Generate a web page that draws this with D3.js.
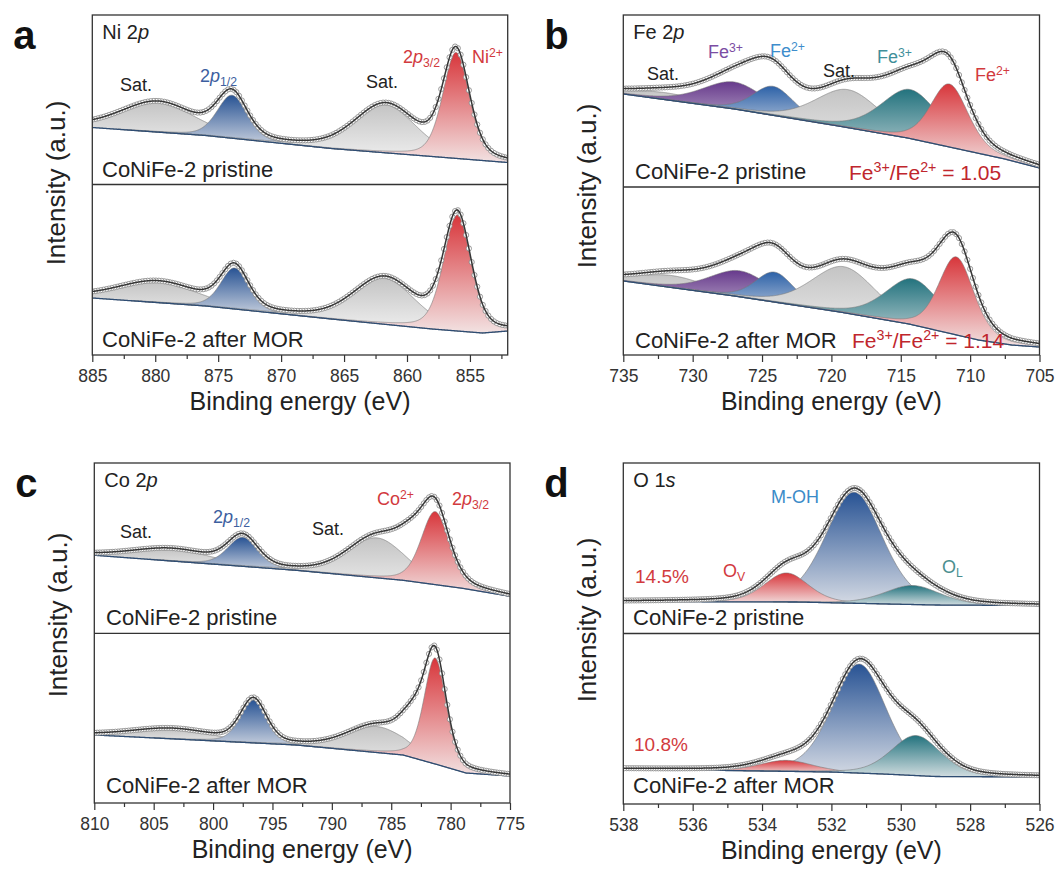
<!DOCTYPE html>
<html>
<head>
<meta charset="utf-8">
<script src="https://cdn.jsdelivr.net/npm/d3@7"></script>
<style>
  body { margin: 0; background: #fff; }
  text { font-family: "Liberation Sans", Arial, Helvetica, sans-serif; }
</style>
</head>
<body>
<svg id="fig" width="1057" height="879"></svg>
<script>
// ---------- values ----------
// background points: [binding energy (eV), intensity (a.u.)]
// peaks: [component, centre (eV), height above background, FWHM (eV), lorentz fraction]
// 'hidden' components are part of the fit envelope but have no filled area
const niTicks = [885, 880, 875, 870, 865, 860, 855];
const feTicks = [735, 730, 725, 720, 715, 710, 705];
const coTicks = [810, 805, 800, 795, 790, 785, 780, 775];
const oTicks  = [538, 536, 534, 532, 530, 528, 526];

const niPristineBg = [[885, 57], [876, 49], [866, 36], [858, 28], [852, 22]];
const niPristinePeaks = [
  ['sat', 879.8, 30, 7.0, 0.3], ['blue', 873.9, 43, 2.8, 0.3],
  ['sat', 861.7, 48, 5.8, 0.3], ['red', 856.1, 106, 2.5, 0.35]];
const niMorBg = [[885, 57], [876, 49], [866, 36], [858, 26], [854, 22], [852, 24]];
const niMorPeaks = [
  ['sat', 879.8, 21, 7.5, 0.3], ['blue', 873.7, 41, 2.6, 0.3],
  ['sat', 861.8, 46, 5.8, 0.3], ['red', 856.0, 116, 2.6, 0.35]];

const fePristineBg = [[735, 93], [727, 78], [719.5, 61], [714.5, 49], [709.5, 34], [707.5, 28], [705, 19]];
const fePristinePeaks = [
  ['sat', 732.0, 7, 6.0, 0.3], ['purple', 727.0, 27, 5.4, 0.3], ['feblue', 724.2, 29, 3.5, 0.3],
  ['sat', 718.8, 38, 5.5, 0.3], ['teal', 714.3, 49, 5.0, 0.35], ['red', 711.5, 63, 3.2, 0.35],
  ['hidden', 725.3, 10, 4.5, 0.3], ['hidden', 713.0, 7, 5.0, 0.3]];
const feMorBg = [[735, 74], [727, 59], [719.4, 43], [714.4, 31], [709.4, 15], [707, 10], [705, 8]];
const feMorPeaks = [
  ['sat', 731.5, 12, 6.0, 0.3], ['purple', 726.6, 26, 5.2, 0.3], ['feblue', 724.1, 30, 3.3, 0.3],
  ['sat', 719.1, 46, 5.5, 0.3], ['teal', 714.1, 46, 4.8, 0.35], ['red', 711.0, 78, 3.0, 0.35],
  ['hidden', 725.0, 7, 4.5, 0.3], ['hidden', 711.8, 6, 4.0, 0.3]];

const coPristineBg = [[810, 78], [793, 63], [784, 53], [779, 45], [775, 37]];
const coPristinePeaks = [
  ['sat', 803.5, 12, 8.0, 0.3], ['blue', 797.5, 29, 3.0, 0.3], ['sat', 786.2, 40, 5.8, 0.3],
  ['hidden', 783.4, 24, 3.0, 0.3], ['red', 781.3, 73, 2.8, 0.35]];
const coMorBg = [[810, 68], [793, 58], [784, 48], [781, 38], [778.7, 30], [775, 27]];
const coMorPeaks = [
  ['sat', 803.5, 10, 8.0, 0.3], ['blue', 796.6, 43, 2.6, 0.3], ['sat', 786.2, 26, 6.0, 0.3],
  ['hidden', 783.2, 28, 2.5, 0.3], ['red', 781.3, 106, 2.2, 0.35]];

const oPristineBg = [[538, 32], [533, 31.5], [531, 30], [529, 28.5], [526, 28]];
const oPristinePeaks = [
  ['blue', 531.35, 111, 1.95, 0.3], ['red', 533.3, 29, 1.5, 0.3], ['teal', 529.66, 19, 1.9, 0.3]];
const oMorBg = [[538, 35], [534, 33], [532, 32], [530.5, 30], [529, 27.5], [526, 27]];
const oMorPeaks = [
  ['blue', 531.2, 109, 1.85, 0.3], ['red', 533.3, 11, 1.8, 0.3], ['teal', 529.56, 40, 1.7, 0.3]];

// ---------- styles ----------
const peakColors = {
  sat:    ['#c4c4c4', '#f1f1f1'],
  red:    ['#d8363b', '#f2e2e2'],
  blue:   ['#285394', '#d7dce5'],
  feblue: ['#2d62a8', '#d7dde8'],
  purple: ['#673a8c', '#dbd4e3'],
  teal:   ['#23737e', '#d2dde0']
};
const RED = '#d23a3e', DARK = '#222';

const svg = d3.select('#fig');
const defs = svg.append('defs');
Object.entries(peakColors).forEach(([k, c]) => {
  const gr = defs.append('linearGradient').attr('id', 'g-' + k)
    .attr('x1', 0).attr('y1', 0).attr('x2', 0).attr('y2', 1);
  gr.append('stop').attr('offset', '0%').attr('stop-color', c[0]);
  gr.append('stop').attr('offset', '100%').attr('stop-color', c[1]);
});

// pseudo-Voigt line shape of a fitted component
let pv = (e, p) => {
  const d = (e - p[1]) / p[3];
  return p[2] * ((1 - p[4]) * Math.exp(-4 * Math.LN2 * d * d) + p[4] / (1 + 4 * d * d));
};

// rich text helper: parts = [[string, 'sup'|'sub'|'it'|undefined], ...]
let rich = (g, x, y, parts, size, color, anchor) => {
  const t = g.append('text').attr('x', x).attr('y', y)
    .attr('font-size', size).attr('fill', color)
    .attr('text-anchor', anchor || 'start');
  let shift = 0;
  parts.forEach(([s, kind]) => {
    const ts = t.append('tspan').text(s);
    let target = 0;
    if (kind === 'sup') { ts.attr('font-size', size * 0.68); target = -size * 0.36; }
    else if (kind === 'sub') { ts.attr('font-size', size * 0.68); target = size * 0.24; }
    else if (kind === 'it') { ts.attr('font-style', 'italic'); }
    if (target - shift !== 0) ts.attr('dy', target - shift);
    shift = target;
  });
  return t;
};

let clipId = 0;
let drawSpectrum = (g, x, yTop, yBot, bgPts, peaks, step) => {
  const y = d3.scaleLinear().domain([0, yBot - yTop]).range([yBot, yTop]);
  const bg = d3.scaleLinear().domain(bgPts.map(d => d[0])).range(bgPts.map(d => d[1]));
  const [e0, e1] = d3.extent(x.domain());
  const fine = d3.range(e0, e1 + 1e-6, 0.04);

  const id = 'clip' + (clipId++);
  defs.append('clipPath').attr('id', id).append('rect')
    .attr('x', x.range()[0]).attr('y', yTop)
    .attr('width', x.range()[1] - x.range()[0]).attr('height', yBot - yTop);
  const s = g.append('g').attr('clip-path', `url(#${id})`);

  peaks.forEach(p => {
    if (p[0] === 'hidden') return;
    const pts = fine.filter(e => pv(e, p) > 0.3);
    s.append('path').datum(pts)
      .attr('fill', `url(#g-${p[0]})`)
      .attr('stroke', '#7a7a7a').attr('stroke-width', 0.6)
      .attr('d', d3.area().x(e => x(e)).y0(e => y(bg(e))).y1(e => y(bg(e) + pv(e, p))));
  });

  s.append('path').datum(fine)
    .attr('fill', 'none').attr('stroke', '#2f4d73').attr('stroke-width', 1.3)
    .attr('d', d3.line().x(e => x(e)).y(e => y(bg(e))));

  const total = e => bg(e) + d3.sum(peaks, p => pv(e, p));
  const meas = d3.range(e0, e1 + 1e-6, step);
  s.selectAll('circle.pt').data(meas).enter().append('circle')
    .attr('class', 'pt')
    .attr('cx', e => x(e)).attr('cy', e => y(total(e))).attr('r', 2.6)
    .attr('fill', '#fff').attr('stroke', '#838383').attr('stroke-width', 0.8);

  s.append('path').datum(fine)
    .attr('fill', 'none').attr('stroke', '#363636').attr('stroke-width', 1.5)
    .attr('d', d3.line().x(e => x(e)).y(e => y(total(e))));
};

let drawPanel = (cfg) => {
  const g = svg.append('g');
  const x = d3.scaleLinear().domain([cfg.ticks[0], cfg.end]).range([cfg.x0, cfg.x1]);
  drawSpectrum(g, x, cfg.top, cfg.mid, cfg.bgA, cfg.peaksA, cfg.step);
  drawSpectrum(g, x, cfg.mid, cfg.bottom, cfg.bgB, cfg.peaksB, cfg.step);

  g.append('rect').attr('x', cfg.x0).attr('y', cfg.top)
    .attr('width', cfg.x1 - cfg.x0).attr('height', cfg.bottom - cfg.top)
    .attr('fill', 'none').attr('stroke', '#333').attr('stroke-width', 1.3);
  g.append('line').attr('x1', cfg.x0).attr('x2', cfg.x1)
    .attr('y1', cfg.mid).attr('y2', cfg.mid).attr('stroke', '#333').attr('stroke-width', 1.3);

  const half = (cfg.ticks[0] - cfg.ticks[1]) / 2;
  const minors = cfg.ticks.map(t => t - half).filter(t => t >= Math.min(cfg.end, cfg.ticks[0]) && t <= cfg.ticks[0]);
  const ax = g.append('g').attr('transform', `translate(0,${cfg.bottom})`)
    .call(d3.axisBottom(x).tickValues(cfg.ticks).tickSize(7).tickPadding(8).tickFormat(d3.format('d')));
  ax.select('.domain').remove();
  ax.selectAll('line').attr('stroke', '#333').attr('stroke-width', 1.2);
  ax.selectAll('text').attr('font-size', 17.5).attr('fill', '#333')
    .attr('font-family', '"Liberation Sans", Arial, sans-serif');
  const mx = g.append('g').attr('transform', `translate(0,${cfg.bottom})`)
    .call(d3.axisBottom(x).tickValues(minors).tickSize(4).tickFormat(''));
  mx.select('.domain').remove();
  mx.selectAll('line').attr('stroke', '#333').attr('stroke-width', 1.2);

  g.append('text').attr('x', (cfg.x0 + cfg.x1) / 2).attr('y', cfg.bottom + 55)
    .attr('text-anchor', 'middle').attr('font-size', 25).attr('fill', DARK)
    .text('Binding energy (eV)');
  g.append('text').attr('transform', `translate(${cfg.x0 - 27},${cfg.ycenter}) rotate(-90)`)
    .attr('text-anchor', 'middle').attr('font-size', 26).attr('fill', DARK)
    .text('Intensity (a.u.)');
  g.append('text').attr('x', cfg.x0 - 79).attr('y', cfg.top + 34)
    .attr('font-size', 40).attr('font-weight', 'bold').attr('fill', '#111')
    .text(cfg.letter);
  rich(g, cfg.x0 + 10, cfg.top + 24, cfg.title, 20, DARK);
  return g;
};

// ---------- panels ----------
const ga = drawPanel({letter: 'a', x0: 92.3, x1: 507.7, top: 15, mid: 184.5, bottom: 355, ycenter: 183,
  ticks: niTicks, end: 852, step: 0.22, title: [['Ni 2'], ['p', 'it']],
  bgA: niPristineBg, peaksA: niPristinePeaks, bgB: niMorBg, peaksB: niMorPeaks});
rich(ga, 120, 91, [['Sat.']], 18, DARK);
rich(ga, 200, 82, [['2'], ['p', 'it'], ['1/2', 'sub']], 18, '#3d5f9f');
rich(ga, 366, 88, [['Sat.']], 18, DARK);
rich(ga, 403, 63, [['2'], ['p', 'it'], ['3/2', 'sub']], 18, RED);
rich(ga, 472, 63, [['Ni'], ['2+', 'sup']], 18, RED);
rich(ga, 102, 177, [['CoNiFe-2 pristine']], 22, DARK);
rich(ga, 102, 347, [['CoNiFe-2 after MOR']], 22, DARK);

const gb = drawPanel({letter: 'b', x0: 623.3, x1: 1039.5, top: 15, mid: 187, bottom: 355, ycenter: 186,
  ticks: feTicks, end: 705, step: 0.2, title: [['Fe 2'], ['p', 'it']],
  bgA: fePristineBg, peaksA: fePristinePeaks, bgB: feMorBg, peaksB: feMorPeaks});
rich(gb, 647, 80, [['Sat.']], 18, DARK);
rich(gb, 708, 58, [['Fe'], ['3+', 'sup']], 18, '#7b4da3');
rich(gb, 770, 57, [['Fe'], ['2+', 'sup']], 18, '#3e8dcc');
rich(gb, 823, 77, [['Sat.']], 18, DARK);
rich(gb, 877, 63, [['Fe'], ['3+', 'sup']], 18, '#3f8f9a');
rich(gb, 975, 81, [['Fe'], ['2+', 'sup']], 18, RED);
rich(gb, 635, 179, [['CoNiFe-2 pristine']], 22, DARK);
rich(gb, 635, 348, [['CoNiFe-2 after MOR']], 22, DARK);
rich(gb, 849, 180, [['Fe'], ['3+', 'sup'], ['/Fe'], ['2+', 'sup'], [' = 1.05']], 21, '#c0262d');
rich(gb, 852, 348, [['Fe'], ['3+', 'sup'], ['/Fe'], ['2+', 'sup'], [' = 1.14']], 21, '#c0262d');

const gc = drawPanel({letter: 'c', x0: 94.3, x1: 510, top: 463, mid: 633.3, bottom: 803, ycenter: 615,
  ticks: coTicks, end: 775, step: 0.22, title: [['Co 2'], ['p', 'it']],
  bgA: coPristineBg, peaksA: coPristinePeaks, bgB: coMorBg, peaksB: coMorPeaks});
rich(gc, 120, 538, [['Sat.']], 18, DARK);
rich(gc, 213, 523, [['2'], ['p', 'it'], ['1/2', 'sub']], 18, '#3d5f9f');
rich(gc, 312, 535, [['Sat.']], 18, DARK);
rich(gc, 377, 505, [['Co'], ['2+', 'sup']], 18, RED);
rich(gc, 452, 505, [['2'], ['p', 'it'], ['3/2', 'sub']], 18, RED);
rich(gc, 106, 625, [['CoNiFe-2 pristine']], 22, DARK);
rich(gc, 106, 793, [['CoNiFe-2 after MOR']], 22, DARK);

const gd = drawPanel({letter: 'd', x0: 623.3, x1: 1039.5, top: 463, mid: 633.5, bottom: 804, ycenter: 620,
  ticks: oTicks, end: 526, step: 0.07, title: [['O 1'], ['s', 'it']],
  bgA: oPristineBg, peaksA: oPristinePeaks, bgB: oMorBg, peaksB: oMorPeaks});
rich(gd, 771, 503, [['M-OH']], 18, '#3a8bc8');
rich(gd, 635, 583, [['14.5%']], 19, RED);
rich(gd, 723, 577, [['O'], ['V', 'sub']], 18, RED);
rich(gd, 942, 573, [['O'], ['L', 'sub']], 18, '#4a8f8f');
rich(gd, 633, 625, [['CoNiFe-2 pristine']], 22, DARK);
rich(gd, 634, 751, [['10.8%']], 19, RED);
rich(gd, 633, 793, [['CoNiFe-2 after MOR']], 22, DARK);
</script>
</body>
</html>
